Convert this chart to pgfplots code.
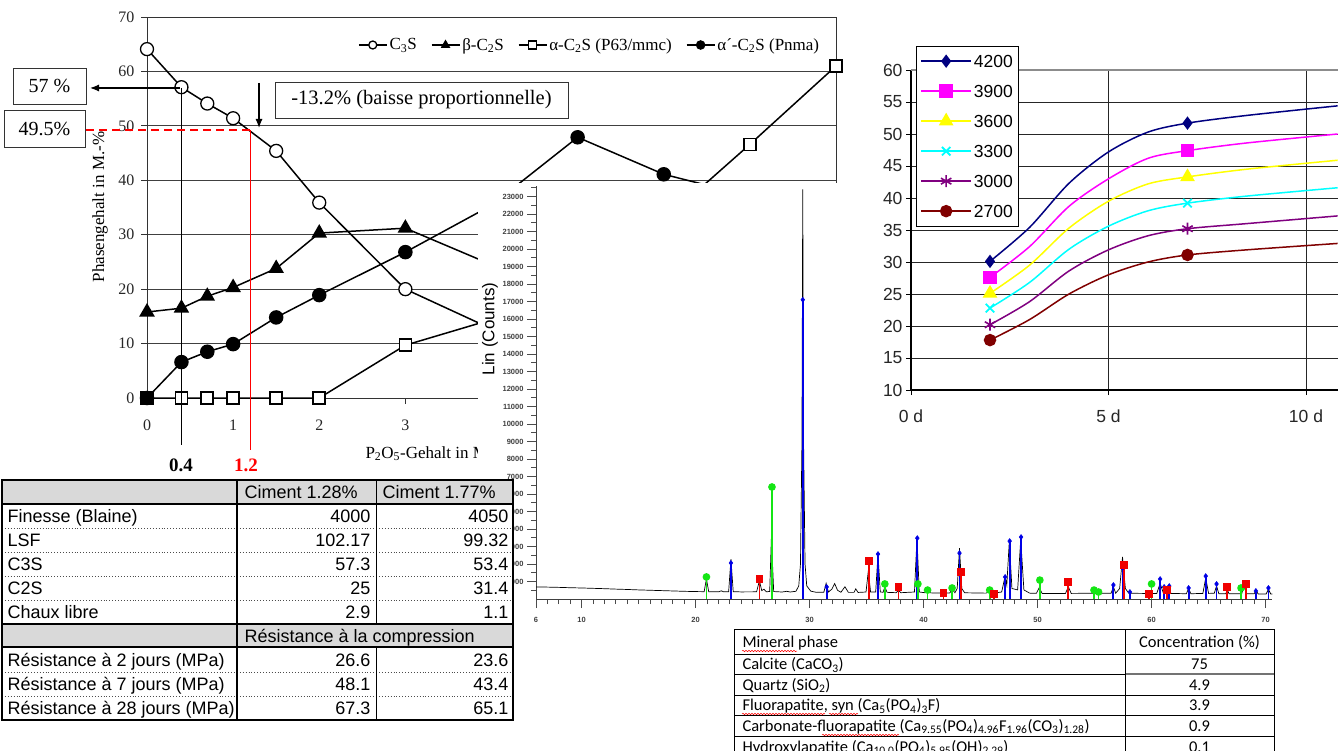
\documentclass[border=0pt]{standalone}
\usepackage{fontspec}
\setmainfont{Liberation Serif}
\newfontfamily\arial{Liberation Sans}
\newfontfamily\calibri{Carlito}
\usepackage{pgfplots}
\pgfplotsset{compat=1.18}
\usetikzlibrary{decorations.pathmorphing,arrows.meta}

\definecolor{navyb}{RGB}{0,0,128}
\definecolor{magb}{RGB}{255,0,255}
\definecolor{yelb}{RGB}{255,255,0}
\definecolor{cyanb}{RGB}{0,255,255}
\definecolor{purpb}{RGB}{128,0,128}
\definecolor{maroonb}{RGB}{128,0,0}
\definecolor{hdrgrey}{RGB}{217,217,217}
\definecolor{xblue}{RGB}{0,0,230}
\definecolor{xgreen}{RGB}{20,230,20}
\definecolor{xred}{RGB}{240,0,0}

\newcommand{\fs}[1]{\fontsize{#1}{#1}\selectfont}

\begin{document}
\begin{tikzpicture}
\useasboundingbox (0pt,0pt) rectangle (1338pt,-751pt);

% ---------------- phase content chart
\begin{axis}[
  at={(147pt,-398pt)}, anchor=south west,
  scale only axis, width=689pt, height=381pt,
  xmin=0, xmax=8, ymin=0, ymax=70,
  xtick={0,...,8}, ytick={0,10,...,70},
  ymajorgrids, major grid style={black!75, line width=0.8pt},
  axis line style={black!80, line width=0.9pt},
  tick align=outside, tick pos=left, major tick length=6pt,
  tick style={black!80, line width=0.8pt},
  /pgf/number format/assume math mode=true,
  ticklabel style={font=\fs{16}, text=black!85},
  xticklabel style={yshift=-12pt},
  yticklabel style={xshift=-3pt},
  clip=false,
  legend columns=4,
  legend style={at={(0.306,0.9265)}, anchor=west, draw=none, fill=none,
    font=\fs{17}, inner xsep=0pt, nodes={inner sep=2pt},
    /tikz/every even column/.append style={column sep=12pt}},
  legend image code/.code={\draw[#1, mark size=4pt, mark indices={2}] plot coordinates {(0pt,0pt) (14pt,0pt) (28pt,0pt)};},
]
\addplot[black, line width=1.5pt, mark=*, mark size=6.5pt, mark options={fill=white, line width=1.3pt}] coordinates {
 (0,64.1) (0.4,57.1) (0.7,54.1) (1,51.4) (1.5,45.4) (2,35.9) (3,20.0) (4,12.7)
};
\addlegendentry{C\textsubscript{3}S}
\addplot[black, line width=1.5pt, mark=triangle*, mark size=7.5pt, mark options={fill=black}] coordinates {
 (0,15.8) (0.4,16.5) (0.7,18.7) (1,20.3) (1.5,23.8) (2,30.3) (3,31.2) (4,24.5)
};
\addlegendentry{β-C\textsubscript{2}S}
\addplot[black, line width=1.5pt, mark=square*, mark size=6pt, mark options={fill=white, line width=1.6pt}] coordinates {
 (0,0) (0.4,0) (0.7,0) (1,0) (1.5,0) (2,0) (3,9.7) (4,14.4) (5,22) (6,32.6) (7,46.6) (8,61)
};
\addlegendentry{α-C\textsubscript{2}S (P63/mmc)}
\addplot[black, line width=1.5pt, mark=*, mark size=6.5pt, mark options={fill=black}] coordinates {
 (0,0) (0.4,6.6) (0.7,8.5) (1,9.9) (1.5,14.8) (2,18.9) (3,26.8) (4,35.4) (5,47.9) (6,41.1) (7,37.1)
};
\addlegendentry{α´-C\textsubscript{2}S (Pnma)}
\end{axis}

% annotations of the phase chart
\begin{scope}[x=1pt, y=-1pt]
\node[rotate=90, font=\fs{17}] at (100,207) {Phasengehalt in M.-\%};
\node[anchor=base west, font=\fs{17}] at (362,458) {P\textsubscript{2}O\textsubscript{5}-Gehalt in M.-\%};
\draw[black, line width=1pt] (181,88) -- (181,445);
\draw[red, line width=1pt] (250,130) -- (250,450);
\draw[red, line width=1.2pt, dash pattern=on 8pt off 5pt] (86,130) -- (250,130);
\draw[black, line width=1.2pt, -{Latex[length=9pt,width=7pt]}] (180,88) -- (90,88);
\draw[black, line width=1.2pt, -{Latex[length=9pt,width=7pt]}] (259,83) -- (259,128);
\draw[black!80, line width=0.9pt, fill=white] (13,68) rectangle (86,104);
\node[font=\fs{20}] at (49.5,86) {57 \%};
\draw[black!80, line width=0.9pt, fill=white] (4,110) rectangle (85,147);
\node[font=\fs{20}] at (44.5,128.5) {49.5\%};
\draw[black!80, line width=0.9pt, fill=white] (275,82) rectangle (568,118);
\node[font=\fs{20.5}] at (421.5,100) {-13.2\% (baisse proportionnelle)};
\node[font=\bfseries\fs{19}] at (181,465) {0.4};
\node[font=\bfseries\fs{19}, text=red] at (246,465) {1.2};
% white panel of the diffractogram
\fill[white] (478,183) rectangle (1338,628);
\node[rotate=90, font=\arial\fs{17}] at (490,329) {Lin (Counts)};
\end{scope}

% ---------------- XRD pattern
\begin{axis}[
  at={(536pt,-599pt)}, anchor=south west,
  scale only axis, width=736.4pt, height=413pt,
  xmin=6, xmax=70.6, ymin=0, ymax=23600,
  axis x line*=bottom, axis y line*=left,
  axis line style={black!75, line width=0.8pt},
  xtick={6,10,20,...,70}, minor xtick={6,...,70},
  ytick={1000,2000,...,23000}, minor ytick={500,1000,...,23500},
  scaled y ticks=false,
  /pgf/number format/.cd, 1000 sep={}, /pgfplots/.cd,
  tick align=outside, major tick length=9pt, minor tick length=5pt,
  tick style={black!70, line width=0.8pt},
  /pgf/number format/assume math mode=true,
  ticklabel style={font=\arial\bfseries\fs{7.5}, text=black!75},
  xticklabel style={yshift=-6pt},
  clip=false,
]
\addplot[black, line width=0.7pt] coordinates {
(6,690)(7,680)(8,665)(9,645)(10,630)(11,610)(12,590)(13,565)(14,545)(15,520)(16,500)(17,480)(18,460)(19,440)(20,425)
(20.75,418)(20.95,1150)(21.15,418)(22.05,412)(22.25,470)(22.45,410)(22.9,420)(23.1,2280)(23.3,420)(24.0,405)
(25.35,410)(25.6,1050)(25.8,480)(26.0,560)(26.2,412)(26.5,430)(26.65,3540)(26.85,425)(27.6,400)(28.0,440)(28.3,400)
(28.8,440)(29.05,750)(29.2,2000)(29.33,9000)(29.4,23400)(29.47,9000)(29.6,2000)(29.75,750)(30.1,450)(30.6,380)
(31.25,385)(31.45,900)(31.65,400)(31.95,560)(32.2,880)(32.45,500)(32.75,385)(33.1,700)(33.4,380)(33.9,380)(34.05,580)
(34.25,375)(34.95,400)(35.15,1600)(35.35,400)(35.8,405)(36.0,2570)(36.2,405)(36.45,380)(36.6,700)(36.8,380)(37.6,360)
(37.8,500)(38.0,360)(39.2,400)(39.42,3480)(39.62,400)(40.1,360)(40.35,500)(40.6,350)(41.5,340)(42.3,345)(42.5,560)
(42.75,360)(42.95,600)(43.15,2900)(43.35,600)(43.6,355)(45.5,335)(45.8,480)(46.1,335)(46.85,400)(47.15,1300)(47.3,800)
(47.52,3300)(47.75,600)(48.25,520)(48.52,3400)(48.8,520)(49.3,335)(49.9,330)(50.15,650)(50.4,320)(52.45,320)(52.7,700)
(52.95,320)(54.9,330)(55.0,420)(55.1,320)(56.45,330)(56.65,700)(56.85,330)(57.2,600)(57.45,2400)(57.7,600)(58.0,330)
(60.45,310)(60.75,900)(61.0,400)(61.15,680)(61.3,380)(61.5,700)(61.7,320)(63.05,300)(63.25,600)(63.45,300)(64.5,320)
(64.75,1200)(65.0,320)(65.5,330)(65.7,750)(65.9,300)(66.5,300)(66.65,500)(66.8,300)(67.9,300)(68.1,700)(68.35,300)
(69.0,295)(69.15,500)(69.35,290)(70.05,290)(70.25,550)(70.45,290)(70.6,290)
};
% calcite
\addplot[ycomb, xblue, line width=1.8pt, mark=diamond*, mark size=2.5pt, mark options={xblue, line width=0.5pt}] coordinates {
(23.1,2060)(29.4,17100)(31.5,690)(36.0,2570)(39.45,3480)(43.15,2620)(47.15,1260)(47.55,3310)(48.55,3540)(56.65,800)
(57.45,1770)(58.1,400)(60.75,1140)(61.1,690)(61.55,740)(63.25,630)(64.75,1310)(65.7,860)(69.15,460)(70.25,630)
};
% quartz
\addplot[ycomb, xgreen, line width=1.6pt, mark=*, mark size=3pt, mark options={xgreen}] coordinates {
(20.95,1260)(26.7,6400)(36.6,860)(39.5,860)(40.35,510)(42.5,630)(45.8,510)(50.2,1080)(54.95,510)(55.35,400)(60.0,860)(67.85,630)
};
% fluorapatite
\addplot[ycomb, xred, line width=1.8pt, mark=square*, mark size=3pt, mark options={xred}] coordinates {
(25.6,1140)(35.2,2170)(37.8,690)(41.75,340)(43.25,1540)(46.15,290)(52.65,970)(57.55,1940)(59.8,290)(61.35,510)(66.65,690)(68.25,860)
};
\end{axis}

% ---------------- strength development chart
\begin{axis}[
  at={(911pt,-390pt)}, anchor=south west,
  scale only axis, width=426.6pt, height=320pt,
  xmin=0, xmax=10.8, ymin=10, ymax=60,
  axis x line*=bottom, axis y line*=left,
  axis line style={black, line width=1.6pt},
  xtick={0,5,10}, xticklabels={0 d,5 d,10 d},
  ytick={10,15,...,55}, extra y ticks={60},
  extra y tick style={major grid style={black!45, line width=2.6pt}},
  grid=major, major grid style={black!85, line width=0.8pt},
  tick align=outside, major tick length=5pt,
  tick style={black, line width=0.8pt},
  /pgf/number format/assume math mode=true,
  ticklabel style={font=\arial\fs{17.5}, text=black!85},
  xticklabel style={yshift=-11pt},
  clip=false,
  legend style={at={(0.0117,1.075)}, anchor=north west, draw=black, line width=0.8pt,
    fill=white, font=\arial\fs{17.5}, inner xsep=4pt, inner ysep=6.5pt,
    nodes={inner sep=2pt, text height=12.5pt, text depth=0pt}, row sep=13.5pt},
  legend cell align=left,
  legend image code/.code={\draw[#1, mark indices={2}] plot coordinates {(0pt,0pt) (25pt,0pt) (50pt,0pt)};},
]
\addplot[navyb, line width=1.5pt, smooth, mark=diamond*, mark size=5.5pt, mark indices={1,6}] coordinates {
 (2,30.1) (3,35.4) (4,42.3) (5,47.2) (6,50.3) (7,51.7) (8.5,52.9) (10.8,54.4)
};
\addlegendentry{4200}
\addplot[magb, line width=1.5pt, smooth, mark=square*, mark size=6pt, mark indices={1,6}] coordinates {
 (2,27.6) (3,32.4) (4,38.7) (5,43.0) (6,46.2) (7,47.4) (8.5,48.6) (10.8,50.0)
};
\addlegendentry{3900}
\addplot[yelb, line width=1.5pt, smooth, mark=triangle*, mark size=7pt, mark indices={1,6}] coordinates {
 (2,25.1) (3,29.5) (4,35.3) (5,39.5) (6,42.2) (7,43.3) (8.5,44.5) (10.8,45.9)
};
\addlegendentry{3600}
\addplot[cyanb, line width=1.5pt, smooth, mark=x, mark size=6pt, mark options={line width=1.8pt}, mark indices={1,6}] coordinates {
 (2,22.8) (3,26.8) (4,32.0) (5,35.6) (6,38.0) (7,39.2) (8.5,40.3) (10.8,41.6)
};
\addlegendentry{3300}
\addplot[purpb, line width=1.5pt, smooth, mark=asterisk, mark size=6pt, mark options={line width=1.6pt}, mark indices={1,6}] coordinates {
 (2,20.2) (3,23.8) (4,28.6) (5,31.9) (6,34.1) (7,35.2) (8.5,36.0) (10.8,37.2)
};
\addlegendentry{3000}
\addplot[maroonb, line width=1.5pt, smooth, mark=*, mark size=5.5pt, mark indices={1,6}] coordinates {
 (2,17.8) (3,21.0) (4,25.0) (5,28.0) (6,30.0) (7,31.1) (8.5,31.9) (10.8,32.9)
};
\addlegendentry{2700}
\end{axis}

% ---------------- cement table
\begin{scope}[x=1pt, y=-1pt, font=\arial\fs{18}]
\fill[white] (2,480) rectangle (513,720);
\fill[hdrgrey] (2,480) rectangle (513,504);
\fill[hdrgrey] (2,624) rectangle (513,647);
\foreach \yy in {528,552,576,600,672,696}
  \draw[black!70, line width=0.9pt, dotted] (2,\yy) -- (513,\yy);
\draw[black, line width=1.2pt] (2,504) -- (513,504) (2,624) -- (513,624) (2,647) -- (513,647);
\draw[black, line width=1pt] (376,480) -- (376,624) (376,647) -- (376,720);
\draw[black, line width=2pt] (237,480) -- (237,720);
\draw[black, line width=1.3pt] (2,480) rectangle (513,720);
\node[anchor=base west] at (241,498.5) {Ciment 1.28\%};
\node[anchor=base west] at (379,498.5) {Ciment 1.77\%};
\node[anchor=base west] at (241,642) {Résistance à la compression};
\foreach \yc/\lab/\va/\vb in {516/Finesse (Blaine)/4000/4050, 540/LSF/102.17/99.32, 564/C3S/57.3/53.4,
    588/C2S/25/31.4, 612/Chaux libre/2.9/1.1, 659.5/Résistance à 2 jours (MPa)/26.6/23.6,
    684/Résistance à 7 jours (MPa)/48.1/43.4, 707.5/Résistance à 28 jours (MPa)/67.3/65.1} {
  \node[anchor=base west] at (4,\yc+6.5) {\lab};
  \node[anchor=base east] at (374,\yc+6.5) {\va};
  \node[anchor=base east] at (512,\yc+6.5) {\vb};
}
\end{scope}

% ---------------- mineral phase table
\begin{scope}[x=1pt, y=-1pt, font=\calibri\fs{16.5}]
\fill[white] (734,629) rectangle (1274,760);
\draw[black, line width=0.8pt] (734,629) rectangle (1274,760);
\foreach \yy in {654,674,695,715,736,757}
  \draw[black, line width=0.8pt] (734,\yy) -- (1274,\yy);
\draw[black!55, line width=1.4pt] (1125,674) -- (1274,674);
\draw[black, line width=0.8pt] (1125,629) -- (1125,760);
\node[anchor=base west] at (739,647) {Mineral phase};
\node[anchor=base] at (1199.5,647) {Concentration (\%)};
\node[anchor=base west] at (739,669.5) {Calcite (CaCO\textsubscript{3})};
\node[anchor=base] at (1199.5,669.5) {75};
\node[anchor=base west] at (739,690) {Quartz (SiO\textsubscript{2})};
\node[anchor=base] at (1199.5,690) {4.9};
\node[anchor=base west] at (739,710.5) {Fluorapatite, syn (Ca\textsubscript{5}(PO\textsubscript{4})\textsubscript{3}F)};
\node[anchor=base] at (1199.5,710.5) {3.9};
\node[anchor=base west] at (739,731) {Carbonate-fluorapatite (Ca\textsubscript{9.55}(PO\textsubscript{4})\textsubscript{4.96}F\textsubscript{1.96}(CO\textsubscript{3})\textsubscript{1.28})};
\node[anchor=base] at (1199.5,731) {0.9};
\node[anchor=base west] at (739,752) {Hydroxylapatite (Ca\textsubscript{10.0}(PO\textsubscript{4})\textsubscript{5.95}(OH)\textsubscript{2.29})};
\node[anchor=base] at (1199.5,752) {0.1};
\begin{scope}[red, line width=0.5pt, decorate, decoration={snake, amplitude=0.7pt, segment length=3pt}]
\draw[decorate] (742,651) -- (797,651);
\draw[decorate] (742,714) -- (825,714);
\draw[decorate] (829,714) -- (858,714);
\draw[decorate] (822,735) -- (899,735);
\end{scope}
\end{scope}
\end{tikzpicture}
\end{document}
